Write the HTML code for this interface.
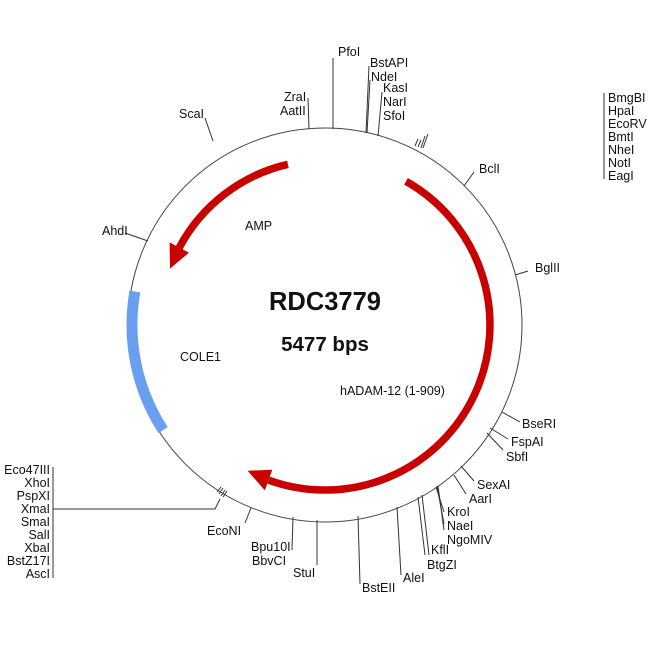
<!DOCTYPE html>
<html><head><meta charset="utf-8"><style>
body{margin:0;background:#fff}
svg text{font-family:"Liberation Sans",sans-serif;font-size:12.5px;fill:#111}
</style></head><body>
<svg width="650" height="650" viewBox="0 0 650 650" xmlns="http://www.w3.org/2000/svg">
<circle cx="325" cy="325" r="197" fill="none" stroke="#444" stroke-width="1"/>
<path d="M287.9,164.3 A165,165 0 0 0 179.3,247.6" fill="none" stroke="#c80000" stroke-width="7.5"/>
<polygon points="170,268.6 189,252.7 169.6,242.4" fill="#c80000"/>
<path d="M406,181.3 A165,165 0 0 1 268.6,480.1" fill="none" stroke="#c80000" stroke-width="7.5"/>
<polygon points="247.6,470.7 272.3,469.7 264.8,490.4" fill="#c80000"/>
<path d="M134.9,291.5 A193,193 0 0 0 163.1,430.1" fill="none" stroke="#6a9ff0" stroke-width="11"/>
<g stroke="#333" stroke-width="1" fill="none">
<line x1="333" y1="58" x2="333" y2="129"/>
<line x1="369" y1="66" x2="366" y2="133"/>
<line x1="370" y1="80" x2="367" y2="133"/>
<line x1="382" y1="92" x2="378" y2="136"/>
<line x1="308" y1="98" x2="309" y2="129"/>
<line x1="205" y1="118" x2="213" y2="141"/>
<line x1="125" y1="233" x2="148" y2="241"/>
<line x1="474" y1="172" x2="464" y2="186"/>
<line x1="528" y1="271" x2="515" y2="275"/>
<line x1="520" y1="422" x2="502" y2="412"/>
<line x1="508" y1="439" x2="490" y2="428"/>
<line x1="503" y1="450" x2="487" y2="433"/>
<line x1="474" y1="481" x2="461" y2="466"/>
<line x1="466" y1="494" x2="454" y2="475"/>
<line x1="444" y1="512" x2="436" y2="487"/>
<line x1="444" y1="524" x2="437" y2="486"/>
<line x1="444" y1="530" x2="438" y2="486"/>
<line x1="425" y1="555" x2="418" y2="497"/>
<line x1="429" y1="555" x2="422" y2="495"/>
<line x1="401" y1="575" x2="397" y2="507"/>
<line x1="360" y1="584" x2="358" y2="516"/>
<line x1="317" y1="520" x2="317" y2="565"/>
<line x1="293" y1="517" x2="292" y2="550"/>
<line x1="251" y1="508" x2="245" y2="523"/>
<line x1="604" y1="93" x2="604" y2="179"/>
<line x1="53" y1="467" x2="53" y2="578"/>
<polyline points="53,509 215,509 220,499"/>
<line x1="415" y1="146" x2="418" y2="139"/>
<line x1="418" y1="147" x2="421" y2="140"/>
<line x1="421" y1="148" x2="425" y2="136"/>
<line x1="423" y1="148" x2="428" y2="134"/>
<line x1="217" y1="492" x2="221" y2="487"/>
<line x1="219" y1="494" x2="223" y2="488"/>
<line x1="221" y1="496" x2="225" y2="490"/>
<line x1="223" y1="497" x2="227" y2="491"/>
</g>
<text x="338" y="56">PfoI</text>
<text x="370" y="67">BstAPI</text>
<text x="371" y="81">NdeI</text>
<text x="383" y="92">KasI</text>
<text x="383" y="106">NarI</text>
<text x="383" y="120">SfoI</text>
<text x="284" y="101">ZraI</text>
<text x="280" y="115">AatII</text>
<text x="179" y="118">ScaI</text>
<text x="102" y="235">AhdI</text>
<text x="479" y="173">BclI</text>
<text x="535" y="272">BglII</text>
<text x="522" y="428">BseRI</text>
<text x="511" y="446">FspAI</text>
<text x="506" y="461">SbfI</text>
<text x="477" y="489">SexAI</text>
<text x="469" y="503">AarI</text>
<text x="447" y="516">KroI</text>
<text x="447" y="530">NaeI</text>
<text x="447" y="544">NgoMIV</text>
<text x="431" y="554">KflI</text>
<text x="427" y="569">BtgZI</text>
<text x="403" y="582">AleI</text>
<text x="362" y="592">BstEII</text>
<text x="293" y="577">StuI</text>
<text x="251" y="551">Bpu10I</text>
<text x="252" y="565">BbvCI</text>
<text x="207" y="535">EcoNI</text>
<g>
<text x="608" y="102">BmgBI</text><text x="608" y="115">HpaI</text><text x="608" y="128">EcoRV</text><text x="608" y="141">BmtI</text><text x="608" y="154">NheI</text><text x="608" y="167">NotI</text><text x="608" y="180">EagI</text>
</g>
<g text-anchor="end">
<text x="50" y="474">Eco47III</text><text x="50" y="487">XhoI</text><text x="50" y="500">PspXI</text><text x="50" y="513">XmaI</text><text x="50" y="526">SmaI</text><text x="50" y="539">SalI</text><text x="50" y="552">XbaI</text><text x="50" y="565">BstZ17I</text><text x="50" y="578">AscI</text>
</g>
<text x="245" y="230">AMP</text>
<text x="180" y="361">COLE1</text>
<text x="340" y="395">hADAM-12 (1-909)</text>
<text x="325" y="310" text-anchor="middle" style="font-size:25.5px;font-weight:bold">RDC3779</text>
<text x="325" y="351" text-anchor="middle" style="font-size:20.5px;font-weight:bold">5477 bps</text>
</svg>
</body></html>
